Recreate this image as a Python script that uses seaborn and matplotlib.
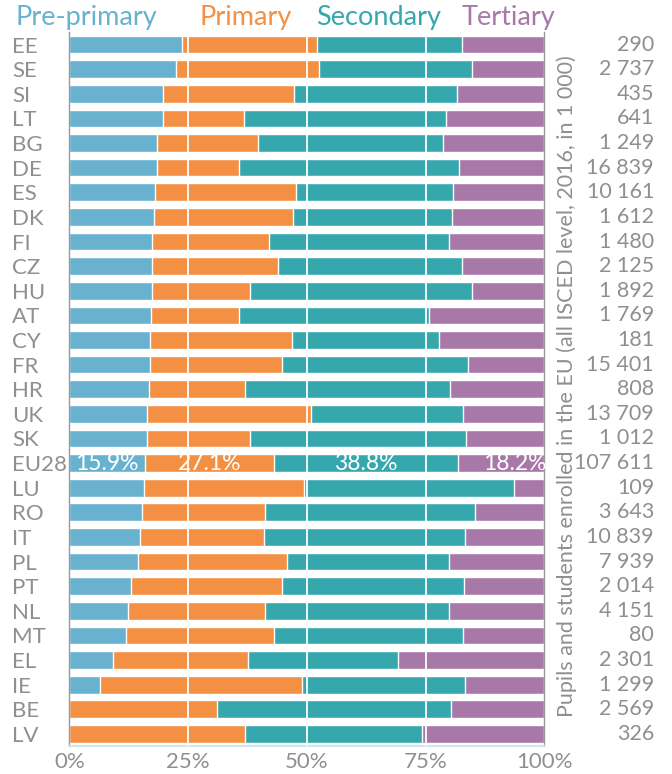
import numpy as np
import pandas as pd
import matplotlib
matplotlib.use("Agg")
import matplotlib.pyplot as plt
import seaborn as sns

# --- Data: share of pupils by ISCED level (%), 2016 ---
countries = ["EE", "SE", "SI", "LT", "BG", "DE", "ES", "DK", "FI", "CZ", "HU", "AT", "CY", "FR",
             "HR", "UK", "SK", "EU28", "LU", "RO", "IT", "PL", "PT", "NL", "MT", "EL", "IE", "BE", "LV"]
pre_primary = [23.7, 22.5, 19.7, 19.7, 18.5, 18.4, 18.0, 17.8, 17.5, 17.5, 17.4, 17.2, 16.9, 16.9,
               16.7, 16.4, 16.3, 15.9, 15.7, 15.3, 14.8, 14.4, 13.0, 12.3, 12.0, 9.3, 6.4, 0.0, 0.0]
primary = [28.5, 30.1, 27.6, 17.0, 21.2, 17.3, 29.7, 29.3, 24.5, 26.4, 20.6, 18.5, 30.0, 27.9,
           20.3, 34.5, 21.7, 27.1, 33.7, 25.9, 26.2, 31.5, 31.8, 28.9, 31.1, 28.3, 42.6, 31.1, 37.0]
secondary = [30.4, 32.1, 34.3, 42.7, 39.0, 46.4, 33.1, 33.5, 38.0, 38.7, 46.7, 40.1, 31.0, 39.2,
             43.2, 31.9, 45.6, 38.8, 44.3, 44.3, 42.4, 34.1, 38.3, 38.8, 39.8, 31.5, 34.4, 49.3, 37.3]
tertiary = [17.4, 15.3, 18.4, 20.6, 21.3, 17.9, 19.2, 19.4, 20.0, 17.4, 15.3, 24.2, 22.1, 16.0,
            19.8, 17.2, 16.4, 18.2, 6.3, 14.5, 16.6, 20.0, 16.9, 20.0, 17.1, 30.9, 16.6, 19.6, 25.7]
totals = [290, 2737, 435, 641, 1249, 16839, 10161, 1612, 1480, 2125, 1892, 1769, 181, 15401,
          808, 13709, 1012, 107611, 109, 3643, 10839, 7939, 2014, 4151, 80, 2301, 1299, 2569, 326]

levels = ["Pre-primary", "Primary", "Secondary", "Tertiary"]
colors = ["#68B2D0", "#F39043", "#37A7AE", "#A878A8"]
grey = "#8f8f8f"

df = pd.DataFrame({"country": countries, "Pre-primary": pre_primary, "Primary": primary,
                   "Secondary": secondary, "Tertiary": tertiary})
cum = df[levels].cumsum(axis=1)

sns.set_style("white")
plt.rcParams["font.family"] = ["Lato", "DejaVu Sans"]

fig = plt.figure(figsize=(6.72, 7.74), dpi=100)
ax = fig.add_axes([0.1031, 0.0358, 0.7069, 0.9226])

# stacked bars: draw cumulative totals from the widest to the narrowest
for lvl, col in zip(levels[::-1], colors[::-1]):
    sns.barplot(x=cum[lvl], y=df["country"], orient="h", color=col, saturation=1,
                width=0.72, ax=ax, zorder=2)

for x in [25, 50, 75]:
    ax.axvline(x, color="white", lw=1.3, zorder=3)

ax.set_xlim(0, 100)
ax.set_ylim(len(countries) - 0.5, -0.5)
ax.set_xticks([0, 25, 50, 75, 100])
ax.set_xticklabels(["0%", "25%", "50%", "75%", "100%"])
ax.set_xlabel("")
ax.set_ylabel("")
ax.tick_params(axis="x", length=0, pad=4, labelsize=16, labelcolor=grey)
ax.tick_params(axis="y", length=0, pad=41, labelsize=16, labelcolor=grey)
for lab in ax.get_yticklabels():
    lab.set_horizontalalignment("left")

for side in ["left", "right"]:
    ax.spines[side].set_color("#999999")
    ax.spines[side].set_linewidth(1)
ax.spines["top"].set_visible(False)
ax.spines["bottom"].set_color("#cfe6f0")
ax.spines["bottom"].set_linewidth(1.5)

# EU28 shares written inside the bar
i_eu = countries.index("EU28")
eu = df.loc[i_eu, levels].values
eu_cum = cum.loc[i_eu, levels].values
starts = np.concatenate([[0], eu_cum[:-1]])
for k in range(3):
    ax.text((starts[k] + eu_cum[k]) / 2, i_eu, f"{eu[k]:.1f}%", ha="center", va="center",
            color="white", fontsize=16.5, zorder=4)
ax.text(100.4, i_eu, f"{eu[3]:.1f}%", ha="right", va="center", color="white", fontsize=16.5, zorder=4)

# totals on the right
for i, t in enumerate(totals):
    s = f"{t:,}".replace(",", " ")
    ax.text(1.231, i, s, transform=ax.get_yaxis_transform(), ha="right", va="center",
            color=grey, fontsize=15.5)

fig.text(567 / 672, 1 - 386 / 774,
         "Pupils and students enrolled in the EU (all ISCED level, 2016, in 1 000)",
         rotation=90, ha="center", va="center", color=grey, fontsize=15.5)

# colored legend texts
for name, col, xp in zip(levels, colors, [15, 200, 316, 462]):
    fig.text(xp / 672, 1 - 18 / 774, name, color=col, fontsize=19.5, ha="left", va="center")

fig.savefig("out.png", dpi=100)
